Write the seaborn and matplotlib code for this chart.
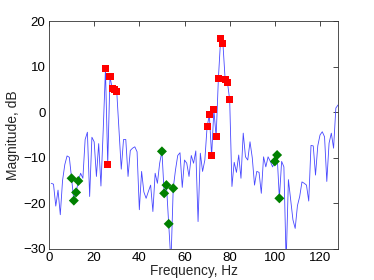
import matplotlib
matplotlib.use("Agg")
import matplotlib.pyplot as plt
import seaborn as sns
import numpy as np
import pandas as pd

# spectrum (Hz, dB), frequencies 1..128
freq = list(range(1, 129))
mag = [
    -15.6, -15.8, -20.6, -17.1, -22.5, -15.0, -11.5, -9.6, -9.9, -14.5,   # 1-10
    -19.4, -17.6, -15.1, -13.4, -14.5, -6.0, -4.4, -18.5, -5.5, -6.5,     # 11-20
    -14.1, -6.9, -16.2, -4.0, 9.5, -11.4, 7.8, 5.2, 4.9, 4.5,             # 21-30
    -4.0, -12.5, -6.0, -6.0, -14.1, -8.4, -7.9, -7.6, -8.7, -21.4,        # 31-40
    -13.0, -17.5, -18.9, -17.4, -16.0, -21.8, -13.4, -15.6, -11.2, -8.6,  # 41-50
    -17.8, -16.0, -24.5, -33.0, -16.7, -12.7, -9.5, -8.9, -16.5, -10.5,   # 51-60
    -11.2, -14.1, -9.5, -11.2, -8.5, -24.0, -9.0, -13.0, -10.5, -3.2,     # 61-70
    -0.6, -9.6, 0.5, -5.4, 7.4, 16.1, 15.1, 7.1, 6.6, 2.7,                # 71-80
    -16.3, -11.0, -13.2, -9.4, -14.5, -4.6, -9.8, -10.5, -6.5, -10.0,     # 81-90
    -16.0, -13.0, -13.2, -17.8, -9.8, -12.0, -9.8, -10.8, -12.0, -10.8,   # 91-100
    -9.4, -18.9, -10.8, -12.0, -33.0, -14.8, -19.3, -23.6, -25.5, -20.5,  # 101-110
    -18.5, -15.3, -15.6, -16.0, -19.5, -7.3, -7.4, -13.8, -7.4, -5.0,     # 111-120
    -4.3, -5.4, -15.2, -6.8, -4.6, -7.9, 0.9, 1.6,                        # 121-128
]
red_freqs = [25, 26, 27, 28, 29, 30, 70, 71, 72, 73, 74, 75, 76, 77, 78, 79, 80]
green_freqs = [10, 11, 12, 13, 50, 51, 52, 53, 55, 100, 101, 102]

xlabel = "Frequency, Hz"
ylabel = "Magnitude, dB"
xticks = [0, 20, 40, 60, 80, 100, 120]
yticks = [-30, -20, -10, 0, 10, 20]

df = pd.DataFrame({"freq": freq, "mag": mag})
red = df[df["freq"].isin(red_freqs)]
green = df[df["freq"].isin(green_freqs)]

sns.set_style("white")
plt.rcParams["font.family"] = ["Liberation Sans", "DejaVu Sans"]

fig = plt.figure(figsize=(3.74, 2.8), dpi=100)
ax = fig.add_axes([0.131, 0.111, 0.773, 0.814])

sns.lineplot(data=df, x="freq", y="mag", ax=ax, color="#4848ff", lw=0.6, sort=False)
sns.scatterplot(data=red, x="freq", y="mag", ax=ax, marker="s", color="#ff0000",
                s=26, edgecolor="none", zorder=3)
sns.scatterplot(data=green, x="freq", y="mag", ax=ax, marker="D", color="#008000",
                s=26, edgecolor="none", zorder=3)

ax.set_xlim(0, 128)
ax.set_ylim(-30, 20)
ax.set_xticks(xticks)
ax.set_yticks(yticks)
ax.set_xlabel(xlabel, fontsize=9.8, labelpad=0)
ax.set_ylabel(ylabel, fontsize=10, labelpad=2)
ax.tick_params(direction="in", length=3.5, width=0.5, labelsize=9.5,
               top=True, right=True, pad=2.5, colors="black")
for s in ax.spines.values():
    s.set_visible(True)
    s.set_color("#333333")
    s.set_linewidth(0.6)

fig.savefig("out.png", dpi=100)
